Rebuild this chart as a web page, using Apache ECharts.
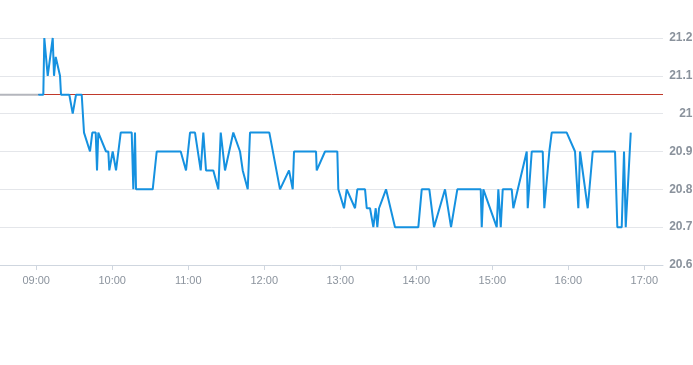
<!DOCTYPE html>
<html>
<head>
<meta charset="utf-8">
<script src="https://cdn.jsdelivr.net/npm/echarts@6/dist/echarts.min.js"></script>
<style>
html,body{margin:0;padding:0;background:#fff;}
#chart{width:693px;height:365px;}
</style>
</head>
<body>
<div id="chart"></div>
<script>
const DAY = '2024-01-02 ';
const axisStart = '08:31:25';
const axisEnd = '17:14:46';
const prevClose = 21.05;
const yTicks = [20.6, 20.7, 20.8, 20.9, 21.0, 21.1, 21.2];

const preTimes = ['08:31:25', '09:01:40'];
const preValues = [21.05, 21.05];

const times = [
 '09:01:40','09:05:36','09:06:24','09:07:44','09:09:05','09:13:02','09:14:03','09:15:24','09:18:47','09:19:35',
 '09:26:08','09:28:49','09:31:25','09:35:55','09:37:44','09:42:28','09:44:17','09:46:58','09:48:00','09:49:01',
 '09:50:08','09:55:06','09:56:55','09:57:42','10:00:23','10:03:00','10:06:42','10:15:23','10:16:39','10:17:59',
 '10:18:47','10:31:58','10:35:07','10:54:04','10:58:15','11:01:25','11:05:21','11:09:51','11:11:55','11:14:02',
 '11:19:48','11:23:45','11:25:39','11:26:40','11:29:02','11:35:35','11:40:53','11:42:13','11:43:01','11:46:58',
 '11:48:46','12:04:01','12:12:27','12:19:34','12:22:29','12:23:30','12:40:53','12:41:26','12:47:59','12:57:41',
 '12:58:29','12:59:49','13:02:59','13:05:07','13:11:40','13:13:29','13:19:34','13:20:54','13:23:30','13:26:07',
 '13:28:00','13:29:16','13:30:37','13:36:08','13:43:14','14:01:38','14:04:19','14:10:19','14:14:01','14:22:42',
 '14:27:27','14:32:25','14:50:53','14:51:41','14:52:57','15:03:31','15:04:47','15:06:41','15:08:15','15:15:22',
 '15:16:38','15:27:12','15:27:59','15:31:09','15:39:50','15:41:05','15:45:02','15:46:56','15:58:46','16:05:19',
 '16:07:56','16:09:16','16:15:21','16:19:18','16:36:54','16:38:43','16:42:11','16:44:00','16:45:21','16:49:18'
];
const prices = [
 21.05,21.05,21.2,21.2,21.1,21.2,21.1,21.15,21.1,21.05,
 21.05,21.0,21.05,21.05,20.95,20.9,20.95,20.95,20.85,20.95,
 20.95,20.9,20.9,20.85,20.9,20.85,20.95,20.95,20.8,20.95,
 20.8,20.8,20.9,20.9,20.85,20.95,20.95,20.85,20.95,20.85,
 20.85,20.8,20.95,20.95,20.85,20.95,20.9,20.9,20.85,20.8,
 20.95,20.95,20.8,20.85,20.8,20.9,20.9,20.85,20.9,20.9,
 20.8,20.8,20.75,20.8,20.75,20.8,20.8,20.75,20.75,20.7,
 20.75,20.7,20.75,20.8,20.7,20.7,20.8,20.8,20.7,20.8,
 20.7,20.8,20.8,20.7,20.8,20.7,20.8,20.7,20.8,20.8,
 20.75,20.9,20.75,20.9,20.9,20.75,20.9,20.95,20.95,20.9,
 20.75,20.9,20.75,20.9,20.9,20.7,20.7,20.9,20.7,20.95
];

const pad = n => (n < 10 ? '0' : '') + n;
const chart = echarts.init(document.getElementById('chart'), null, {renderer: 'canvas'});
chart.setOption({
  animation: false,
  backgroundColor: '#ffffff',
  grid: {left: 0, right: 30, top: 38, bottom: 100, containLabel: false, outerBoundsMode: 'none'},
  xAxis: {
    type: 'time',
    min: DAY + axisStart,
    max: DAY + axisEnd,
    minInterval: 3600000,
    maxInterval: 3600000,
    axisLine: {lineStyle: {color: '#cfd6df', width: 1}},
    axisTick: {show: true, length: 5, lineStyle: {color: '#cfd6df'}},
    splitLine: {show: false},
    axisLabel: {
      color: '#8b939d', fontSize: 11, margin: 10,
      fontFamily: 'Liberation Sans, Arial, sans-serif',
      showMinLabel: false, showMaxLabel: false,
      formatter: v => { const d = new Date(v); return pad(d.getHours()) + ':' + pad(d.getMinutes()); }
    }
  },
  yAxis: {
    type: 'value',
    position: 'right',
    min: yTicks[0],
    max: yTicks[yTicks.length - 1],
    interval: 0.1,
    axisLine: {show: false},
    axisTick: {show: false},
    splitLine: {lineStyle: {color: '#e4e6ea', width: 1}},
    axisLabel: {
      color: '#8a929c', fontSize: 12, margin: 29.5, align: 'right', fontWeight: 'bold',
      fontFamily: 'Liberation Sans, Arial, sans-serif',
      formatter: v => String(Math.round(v * 10) / 10)
    }
  },
  series: [
    {
      type: 'line',
      data: [],
      z: 1,
      markLine: {
        silent: true, symbol: 'none', label: {show: false},
        lineStyle: {color: '#c0392b', width: 1, type: 'solid'},
        data: [{yAxis: prevClose}]
      }
    },
    {
      type: 'line',
      data: preTimes.map((t, i) => [DAY + t, preValues[i]]),
      showSymbol: false,
      lineStyle: {color: '#b4b6bd', width: 2},
      z: 5
    },
    {
      type: 'line',
      data: times.map((t, i) => [DAY + t, prices[i]]),
      showSymbol: false,
      lineStyle: {color: '#1591e0', width: 2},
      z: 6
    }
  ]
});
</script>
</body>
</html>
